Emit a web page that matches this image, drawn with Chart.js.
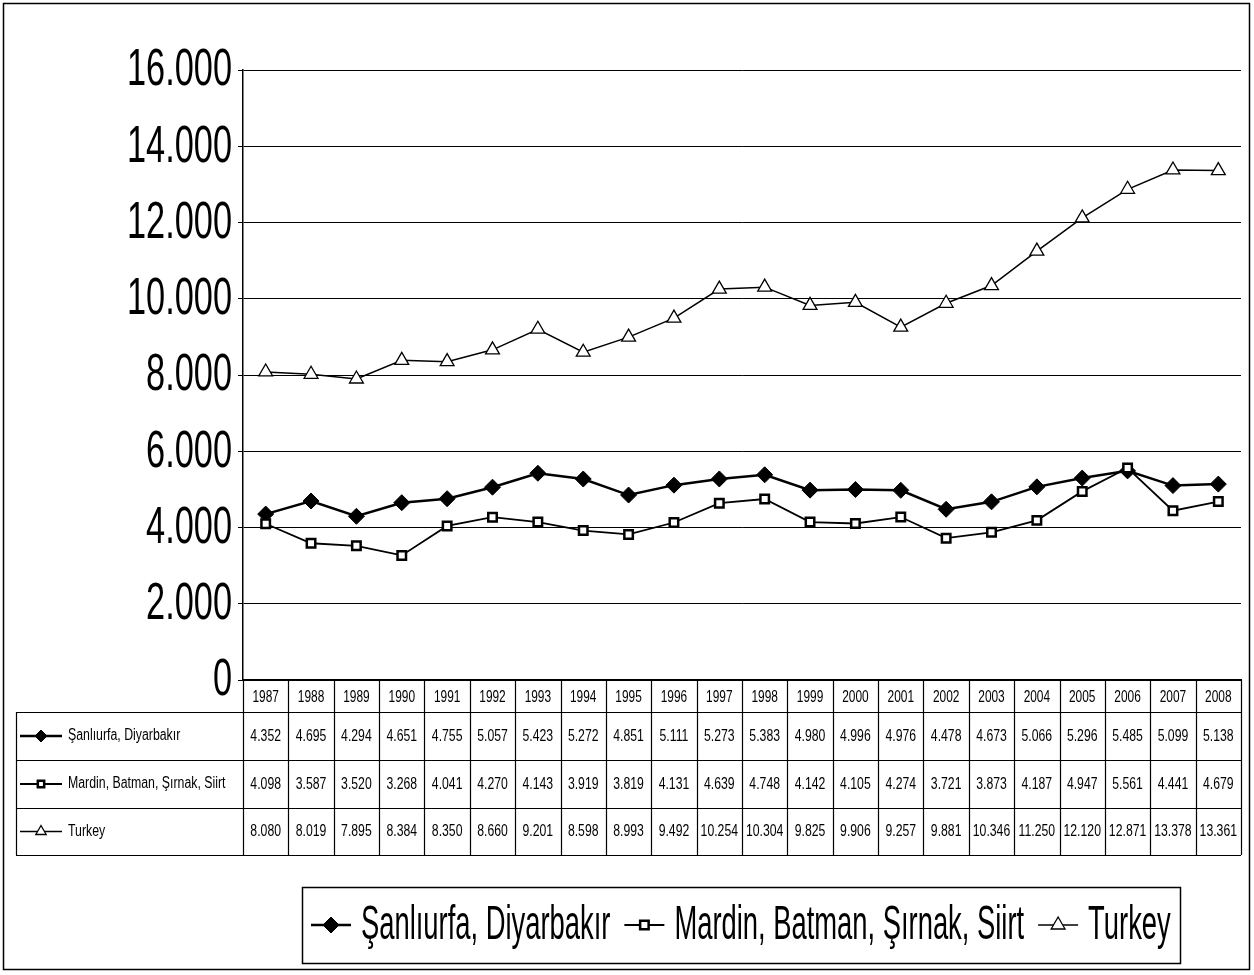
<!DOCTYPE html>
<html>
<head>
<meta charset="utf-8">
<script src="https://cdn.jsdelivr.net/npm/chart.js@4.4.1/dist/chart.umd.min.js"></script>
<style>
  body { margin: 0; background: #fff; }
  #wrap { width: 1254px; height: 975px; }
</style>
</head>
<body>
<div id="wrap"><canvas id="chart" width="1254" height="975"></canvas></div>
<script>
const years = ['1987', '1988', '1989', '1990', '1991', '1992', '1993', '1994', '1995', '1996', '1997',
               '1998', '1999', '2000', '2001', '2002', '2003', '2004', '2005', '2006', '2007', '2008'];
const sanliurfa = [4352, 4695, 4294, 4651, 4755, 5057, 5423, 5272, 4851, 5111, 5273,
                   5383, 4980, 4996, 4976, 4478, 4673, 5066, 5296, 5485, 5099, 5138];
const mardin = [4098, 3587, 3520, 3268, 4041, 4270, 4143, 3919, 3819, 4131, 4639,
                4748, 4142, 4105, 4274, 3721, 3873, 4187, 4947, 5561, 4441, 4679];
const turkey = [8080, 8019, 7895, 8384, 8350, 8660, 9201, 8598, 8993, 9492, 10254,
                10304, 9825, 9906, 9257, 9881, 10346, 11250, 12120, 12871, 13378, 13361];
const seriesNames = ['Şanlıurfa, Diyarbakır', 'Mardin, Batman, Şırnak, Siirt', 'Turkey'];
const yMin = 0, yMax = 16000, yStep = 2000;

const FONT = "'Liberation Sans', Arial, sans-serif";

// 16000 -> "16.000"
const fmt = v => String(v).replace(/\B(?=(\d{3})+(?!\d))/g, '.');

const markers = [
    { pointStyle: 'rectRot', radius: 8, borderWidth: 1, fill: '#000' },
    { pointStyle: 'rect', radius: 6, borderWidth: 2.5, fill: '#fff' },
    { pointStyle: 'triangle', radius: 8, borderWidth: 1.3, fill: '#fff' }
];
const lineWidths = [2.5, 1.8, 1.5];

// narrow-looking text: regular font squeezed horizontally
function text(ctx, s, x, y, size, sx, align) {
    ctx.save();
    ctx.font = size + 'px ' + FONT;
    ctx.translate(x, y);
    ctx.scale(sx, 1);
    ctx.textAlign = align || 'left';
    ctx.textBaseline = 'middle';
    ctx.fillStyle = '#000';
    ctx.fillText(s, 0, 0);
    ctx.restore();
}
function textW(ctx, s, size, sx) {
    ctx.save();
    ctx.font = size + 'px ' + FONT;
    const w = ctx.measureText(s).width * sx;
    ctx.restore();
    return w;
}

function drawMarker(ctx, idx, x, y, scale) {
    const m = markers[idx];
    ctx.save();
    ctx.fillStyle = m.fill;
    ctx.strokeStyle = '#000';
    ctx.lineWidth = m.borderWidth;
    Chart.helpers.drawPoint(ctx, {
        pointStyle: m.pointStyle, radius: m.radius * (scale || 1),
        borderWidth: m.borderWidth, rotation: 0
    }, x, y);
    ctx.restore();
}

function drawKey(ctx, idx, x0, x1, y, scale) {
    ctx.save();
    ctx.strokeStyle = '#000';
    ctx.lineWidth = lineWidths[idx];
    ctx.beginPath();
    ctx.moveTo(x0, y);
    ctx.lineTo(x1, y);
    ctx.stroke();
    ctx.restore();
    drawMarker(ctx, idx, (x0 + x1) / 2, y, scale);
}

const tablePlugin = {
    id: 'dataTable',
    afterDraw(chart) {
        const ctx = chart.ctx;
        const xs = chart.scales.x;
        const ys = chart.scales.y;
        const n = years.length;
        const colW = (xs.right - xs.left) / n;
        const top = xs.top;
        const rows = [top, top + 32, top + 80, top + 128, top + 175];
        const tableLeft = 16;
        const allData = [sanliurfa, mardin, turkey];

        // y tick labels
        ys.ticks.forEach(t => {
            text(ctx, fmt(t.value), ys.right - 11, ys.getPixelForValue(t.value) + 1, 52, 0.66, 'right');
        });

        ctx.save();
        ctx.strokeStyle = '#000';
        ctx.lineWidth = 1.2;
        ctx.beginPath();
        for (let i = 0; i <= n; i++) {
            const x = Math.round(xs.left + i * colW) + 0.5;
            ctx.moveTo(x, rows[0]);
            ctx.lineTo(x, rows[4]);
        }
        for (let r = 1; r < rows.length; r++) {
            ctx.moveTo(tableLeft, rows[r] + 0.5);
            ctx.lineTo(xs.right, rows[r] + 0.5);
        }
        ctx.moveTo(tableLeft + 0.5, rows[1]);
        ctx.lineTo(tableLeft + 0.5, rows[4]);
        ctx.stroke();
        ctx.restore();

        years.forEach((yr, i) => {
            text(ctx, yr, xs.getPixelForValue(i), (rows[0] + rows[1]) / 2 + 1, 17, 0.7, 'center');
        });
        allData.forEach((arr, r) => {
            const cy = (rows[r + 1] + rows[r + 2]) / 2;
            arr.forEach((v, i) => text(ctx, fmt(v), xs.getPixelForValue(i), cy, 17, 0.72, 'center'));
            drawKey(ctx, r, tableLeft + 4, tableLeft + 46, cy, 0.75);
            text(ctx, seriesNames[r], tableLeft + 52, cy, 16, 0.77, 'left');
        });

        // legend box
        const lx0 = 302, ly0 = 887, lx1 = 1180, ly1 = 963;
        ctx.save();
        ctx.strokeStyle = '#000';
        ctx.lineWidth = 1.5;
        ctx.strokeRect(lx0 + 0.5, ly0 + 0.5, lx1 - lx0, ly1 - ly0);
        ctx.restore();
        const lsize = 48, lsx = 0.57;
        let x = lx0 + 9;
        const ly = (ly0 + ly1) / 2;
        seriesNames.forEach((name, i) => {
            drawKey(ctx, i, x, x + 40, ly, 1);
            x += 50;
            text(ctx, name, x, ly + 1, lsize, lsx, 'left');
            x += textW(ctx, name, lsize, lsx) + 14;
        });

        // outer frame
        ctx.save();
        ctx.strokeStyle = '#000';
        ctx.lineWidth = 1.5;
        ctx.strokeRect(3.5, 3.5, 1246, 966);
        ctx.restore();
    }
};

const makeSet = (label, data, idx) => ({
    label: label,
    data: data,
    borderColor: '#000',
    borderWidth: lineWidths[idx],
    pointStyle: markers[idx].pointStyle,
    pointRadius: markers[idx].radius,
    pointBorderWidth: markers[idx].borderWidth,
    pointBackgroundColor: markers[idx].fill,
    pointBorderColor: '#000',
    tension: 0,
    fill: false
});

new Chart(document.getElementById('chart'), {
    type: 'line',
    data: {
        labels: years,
        datasets: [
            makeSet(seriesNames[2], turkey, 2),
            makeSet(seriesNames[1], mardin, 1),
            makeSet(seriesNames[0], sanliurfa, 0)
        ]
    },
    options: {
        responsive: false,
        animation: false,
        layout: { padding: { top: 70, right: 13, bottom: 0, left: 0 } },
        plugins: {
            legend: { display: false },
            tooltip: { enabled: false }
        },
        scales: {
            x: {
                offset: true,
                grid: { display: false },
                ticks: { display: false },
                border: { color: '#000', width: 1.5 },
                afterFit: s => { s.height = 295; }
            },
            y: {
                min: yMin,
                max: yMax,
                ticks: { stepSize: yStep, display: false },
                grid: { color: '#000', lineWidth: 1, tickLength: 5 },
                border: { color: '#000', width: 1.5 },
                afterFit: s => { s.width = 243; }
            }
        }
    },
    plugins: [tablePlugin]
});
</script>
</body>
</html>
